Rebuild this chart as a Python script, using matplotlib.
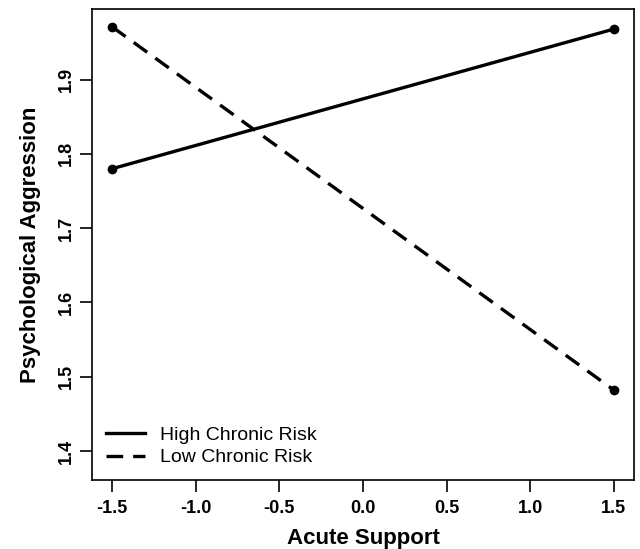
import matplotlib.pyplot as plt

plt.rcParams['font.family'] = ['Liberation Sans', 'DejaVu Sans']

# simple slopes at -1.5 / +1.5 SD of acute support
acute_support = [-1.5, 1.5]
high_chronic = [1.780, 1.968]
low_chronic = [1.971, 1.482]

x_ticks = [-1.5, -1.0, -0.5, 0.0, 0.5, 1.0, 1.5]
y_ticks = [1.4, 1.5, 1.6, 1.7, 1.8, 1.9]

fig = plt.figure(figsize=(6.4, 5.49), dpi=100)
ax = fig.add_axes([0.1438, 0.1257, 0.8468, 0.8579])

ax.plot(acute_support, high_chronic, color='black', lw=2.4, ls='-',
        marker='o', ms=6, label='High Chronic Risk')
ax.plot(acute_support, low_chronic, color='black', lw=2.4, ls=(0, (5, 3)),
        marker='o', ms=6, label='Low Chronic Risk')

ax.set_xlim(-1.62, 1.62)
ax.set_ylim(1.361, 1.995)

ax.set_xticks(x_ticks)
ax.set_xticklabels([f'{t:.1f}' for t in x_ticks], fontsize=13, fontweight='bold')
ax.set_yticks(y_ticks)
ax.set_yticklabels([f'{t:.1f}' for t in y_ticks], fontsize=13, fontweight='bold',
                   rotation=90, va='center')
ax.tick_params(axis='both', length=8.5, width=1.2, color='black', pad=6)
ax.tick_params(axis='y', pad=4)
for s in ax.spines.values():
    s.set_linewidth(1.2)

ax.set_xlabel('Acute Support', fontsize=16, fontweight='bold', labelpad=8)
ax.set_ylabel('Psychological Aggression', fontsize=16, fontweight='bold', labelpad=12)

ax.legend(loc='lower left', frameon=False, fontsize=14, handlelength=2.0,
          handletextpad=0.8, borderaxespad=0.3, labelspacing=0.25,
          markerscale=0)

fig.savefig('out.png', dpi=100)
